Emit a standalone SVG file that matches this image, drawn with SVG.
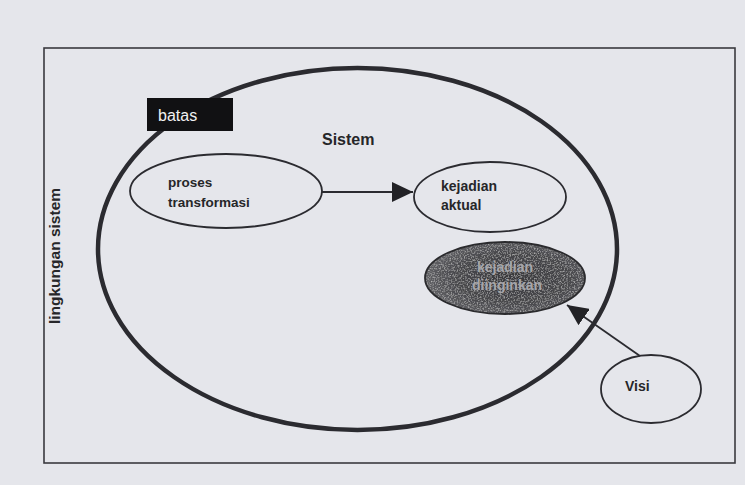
<svg xmlns="http://www.w3.org/2000/svg" width="745" height="485" viewBox="0 0 745 485">
  <style>
    .line { fill: none; stroke: #2b2b30; }
    .node { fill: none; stroke: #2b2b30; stroke-width: 1.8; }
    .lbl { font-family: "Liberation Sans", Arial, sans-serif; font-weight: bold; fill: #262629; }
    .dk { font-family: "Liberation Sans", Arial, sans-serif; font-weight: bold; fill: #a6a6aa; }
  </style>
  <defs>
    <marker id="arrow" markerUnits="userSpaceOnUse" markerWidth="22" markerHeight="20" viewBox="0 0 22 20" refX="21" refY="10" orient="auto">
      <path d="M0,0 L21,10 L0,20 z" fill="#222226"/>
    </marker>
    <radialGradient id="dark" cx="55%" cy="50%" r="60%">
      <stop offset="0" stop-color="#38383b"/>
      <stop offset="0.6" stop-color="#48484c"/>
      <stop offset="1" stop-color="#66666a"/>
    </radialGradient>
    <filter id="grain" x="0" y="0" width="100%" height="100%">
      <feTurbulence type="fractalNoise" baseFrequency="0.7" numOctaves="2" seed="5" result="n"/>
      <feColorMatrix in="n" type="matrix" values="0 0 0 0 0.75  0 0 0 0 0.75  0 0 0 0 0.75  0 0 0 1.2 -0.55" result="a"/>
      <feComposite in="a" in2="SourceGraphic" operator="in" result="g"/>
      <feMerge><feMergeNode in="SourceGraphic"/><feMergeNode in="g"/></feMerge>
    </filter>
  </defs>

  <rect x="0" y="0" width="745" height="485" fill="#e5e6eb"/>

  <g id="lingkungan">
    <rect x="44" y="48" width="691" height="415" fill="none" stroke="#3a3a3f" stroke-width="1.6"/>
    <text class="lbl" font-size="15.5" text-anchor="middle" transform="translate(60,256) rotate(-90)">lingkungan sistem</text>
  </g>

  <g id="sistem">
    <ellipse cx="357.5" cy="249" rx="259.5" ry="181" class="line" stroke-width="4.5"/>
    <text class="lbl" x="322" y="145" font-size="16">Sistem</text>
  </g>

  <g id="batas">
    <rect x="147" y="98" width="86" height="33" fill="#111113"/>
    <text x="158" y="121" font-family="'Liberation Sans', Arial, sans-serif" font-size="16" fill="#f2f2f2">batas</text>
  </g>

  <g id="proses">
    <ellipse cx="226" cy="191" rx="96" ry="37" class="node"/>
    <text class="lbl" x="168" y="187" font-size="13.5">proses</text>
    <text class="lbl" x="168" y="207" font-size="13.5">transformasi</text>
  </g>

  <g id="aktual">
    <ellipse cx="490" cy="197" rx="76" ry="35" class="node"/>
    <text class="lbl" x="441" y="191" font-size="14">kejadian</text>
    <text class="lbl" x="441" y="210" font-size="14">aktual</text>
  </g>

  <g id="diinginkan">
    <ellipse cx="505" cy="278" rx="80" ry="36" fill="url(#dark)" filter="url(#grain)"/>
    <ellipse cx="505" cy="278" rx="80" ry="36" fill="none" stroke="#2a2a2d" stroke-width="1.8"/>
    <text class="dk" x="505" y="272" font-size="14" text-anchor="middle">kejadian</text>
    <text class="dk" x="507" y="290" font-size="14" text-anchor="middle">diinginkan</text>
  </g>

  <g id="visi">
    <ellipse cx="651" cy="389" rx="50" ry="34" class="node"/>
    <text class="lbl" x="625" y="391" font-size="14">Visi</text>
  </g>

  <g id="connectors">
    <line x1="322" y1="192" x2="413" y2="192" class="line" stroke-width="1.8" marker-end="url(#arrow)"/>
    <line x1="640" y1="356" x2="567" y2="305" class="line" stroke-width="1.8" marker-end="url(#arrow)"/>
  </g>
</svg>
